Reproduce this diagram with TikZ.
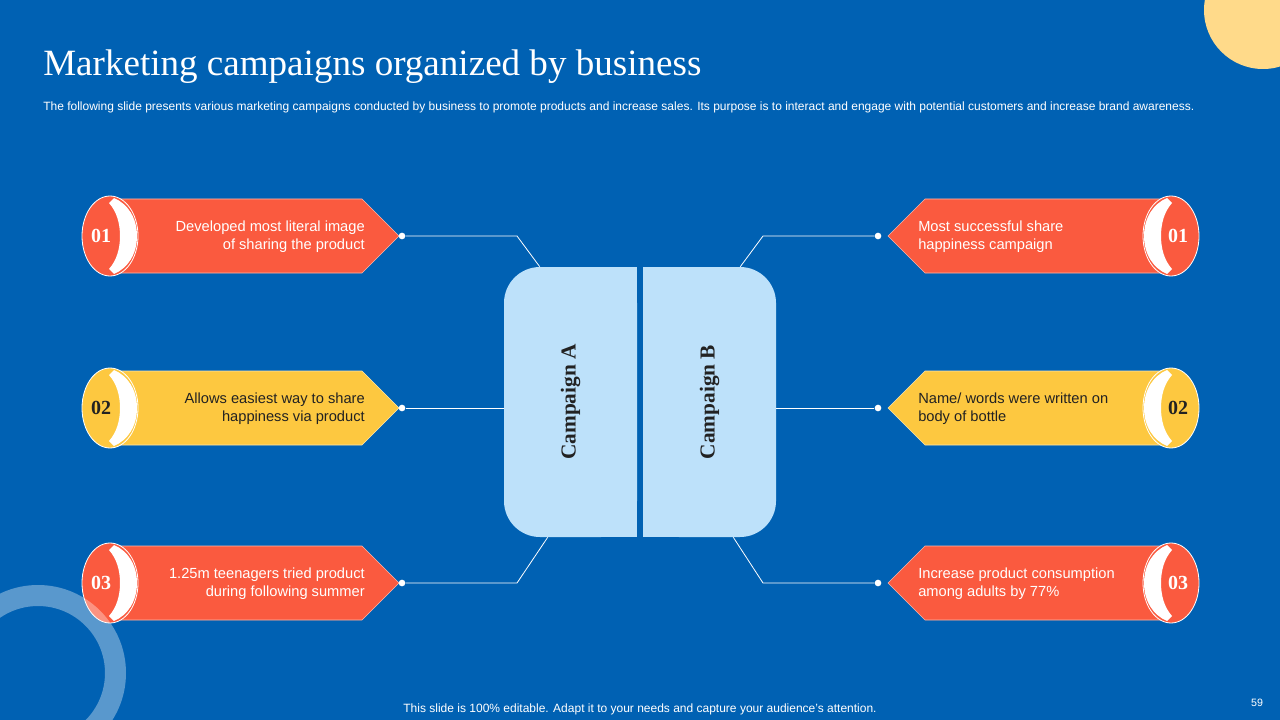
\documentclass[tikz,border=0pt]{standalone}
\usepackage{fontspec}
\setmainfont{Liberation Serif}
\setsansfont{Liberation Sans}
\usepackage{tikz}
\usetikzlibrary{positioning,calc}
\definecolor{slideblue}{HTML}{0061B3}
\definecolor{boxblue}{HTML}{BDE1FA}
\definecolor{cardred}{HTML}{FA5A3F}
\definecolor{cardyellow}{HTML}{FDC840}
\definecolor{sun}{HTML}{FFDA8A}
\definecolor{darktext}{HTML}{222222}

% #1 name, #2 y, #3 fill, #4 text colour, #5 number, #6 text
\newcommand{\leftcard}[6]{%
  \fill[#3, draw=white!55!#3, line width=0.4pt] (110,#2-37) -- (362,#2-37) -- (399,#2) -- (362,#2+37) -- (110,#2+37) -- cycle;
  \filldraw[#3, draw=white, line width=0.6pt] (110,#2) ellipse [x radius=28, y radius=40];
  \fill[white, shift={(110,#2)}] (4,-38) .. controls (18,-32) and (27,-18) .. (27,0) .. controls (27,18) and (18,32) .. (4,38) -- (-1,33) .. controls (7,24) and (10,12) .. (10,0) .. controls (10,-12) and (7,-24) .. (-1,-33) -- cycle;
  \node[numtext, text=#4] (#1n) at (101,#2) {#5};
  \node[cardtext, text=#4, anchor=east, align=right] (#1t) at (365,#2+1) {#6};
  \node[dot] (#1d) at (402,#2) {};
}
\newcommand{\rightcard}[6]{%
  \fill[#3, draw=white!55!#3, line width=0.4pt] (1170,#2-37) -- (925,#2-37) -- (888,#2) -- (925,#2+37) -- (1170,#2+37) -- cycle;
  \filldraw[#3, draw=white, line width=0.6pt] (1171,#2) ellipse [x radius=28, y radius=40];
  \fill[white, shift={(1171,#2)}, xscale=-1] (4,-38) .. controls (18,-32) and (27,-18) .. (27,0) .. controls (27,18) and (18,32) .. (4,38) -- (-1,33) .. controls (7,24) and (10,12) .. (10,0) .. controls (10,-12) and (7,-24) .. (-1,-33) -- cycle;
  \node[numtext, text=#4] (#1n) at (1178,#2) {#5};
  \node[cardtext, text=#4, anchor=west, align=left] (#1t) at (918,#2+1) {#6};
  \node[dot] (#1d) at (878,#2) {};
}

\begin{document}
\begin{tikzpicture}[x=0.75pt,y=-0.75pt,
  cardtext/.style={font=\sffamily\fontsize{11}{13.5}\selectfont, inner sep=0pt},
  numtext/.style={font=\bfseries\fontsize{15}{15}\selectfont, inner sep=0pt},
  dot/.style={circle, fill=white, inner sep=0pt, minimum size=5pt},
  link/.style={white, line width=0.6pt},
  campbox/.style={fill=boxblue, rounded corners=27pt, minimum width=99.75pt, minimum height=202.5pt, inner sep=0pt},
  camptext/.style={rotate=90, font=\bfseries\fontsize{16}{16}\selectfont, text=darktext}]
\useasboundingbox (0,0) rectangle (1280,720);
\fill[slideblue] (0,0) rectangle (1280,720);
\fill[sun] (1263,10) circle [radius=59];

% title
\node[anchor=base west, text=white, font=\fontsize{27.8}{28}\selectfont, inner sep=0pt] (title) at (43,76) {Marketing campaigns organized by business};
\node[anchor=base west, text=white, font=\sffamily\fontsize{9}{9}\selectfont, inner sep=0pt] (subtitle) at (43,111) {The following slide presents various marketing campaigns conducted by business to promote products and increase sales. Its purpose is to interact and engage with potential customers and increase brand awareness.};

% centre
\node[campbox] (campA) at (570.5,402) {};
\fill[boxblue] (campA.north) rectangle (campA.south east);
\node[campbox] (campB) at (709.5,402) {};
\fill[boxblue] (campB.north west) rectangle (campB.south);
\node[camptext] (labelA) at (campA.center) {Campaign A};
\node[camptext] (labelB) at (campB.center) {Campaign B};

% cards
\leftcard{la}{236}{cardred}{white}{01}{Developed most literal image\\of sharing the product}
\leftcard{lb}{408}{cardyellow}{darktext}{02}{Allows easiest way to share\\happiness via product}
\leftcard{lc}{583}{cardred}{white}{03}{1.25m teenagers tried product\\during following summer}
\rightcard{ra}{236}{cardred}{white}{01}{Most successful share\\happiness campaign}
\rightcard{rb}{408}{cardyellow}{darktext}{02}{Name/ words were written on\\body of bottle}
\rightcard{rc}{583}{cardred}{white}{03}{Increase product consumption\\among adults by 77\%}

% links
\draw[link] (lad) -- ++(115,0) -- ($(campA.north west)+(36,0)$);
\draw[link] (lbd) -- (lbd -| campA.west);
\draw[link] (lcd) -- ++(115,0) -- ($(campA.south west)+(44,0)$);
\draw[link] (rad) -- ++(-115,0) -- ($(campB.north east)+(-36,0)$);
\draw[link] (rbd) -- (rbd -| campB.east);
\draw[link] (rcd) -- ++(-115,0) -- ($(campB.south east)+(-43,0)$);

\draw[white, opacity=0.35, line width=15.75pt] (38,673) circle [radius=77.5];

% footer
\node[anchor=base, text=white, font=\sffamily\fontsize{9}{9}\selectfont, inner sep=0pt] (footer) at (640,712) {This slide is 100\% editable. Adapt it to your needs and capture your audience’s attention.};
\node[anchor=base, text=white, font=\sffamily\fontsize{8}{8}\selectfont, inner sep=0pt] (pageno) at (1257,706) {59};
\end{tikzpicture}
\end{document}
